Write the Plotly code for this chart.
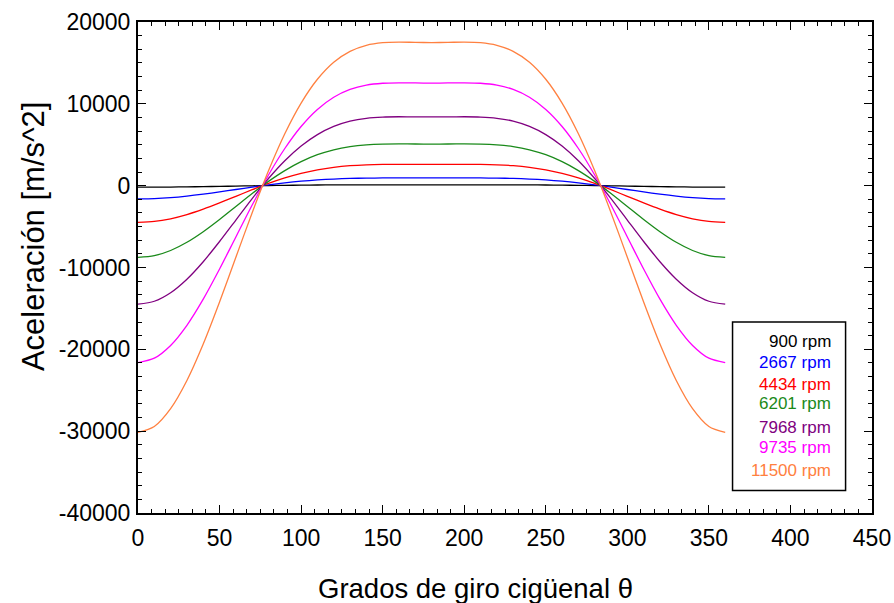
import plotly.graph_objects as go

# Crank angle samples (degrees)
theta = list(range(0, 361, 10))

# Piston acceleration [m/s^2] for each engine speed
acc_900 = [-185, -180, -167, -146, -119, -87, -54, -20, 11, 39, 62, 80, 92, 101, 105, 107, 107, 107, 107,
           107, 107, 107, 105, 101, 92, 80, 62, 39, 11, -20, -54, -87, -119, -146, -167, -180, -185]
acc_2667 = [-1622, -1582, -1465, -1280, -1041, -765, -470, -177, 98, 341, 543, 699, 811, 883, 923, 940, 943, 942, 941,
            942, 943, 940, 923, 883, 811, 699, 543, 341, 98, -177, -470, -765, -1041, -1280, -1465, -1582, -1622]
acc_4434 = [-4484, -4374, -4050, -3539, -2877, -2113, -1300, -490, 270, 942, 1500, 1933, 2242, 2440, 2550, 2597, 2607, 2603, 2600,
            2603, 2607, 2597, 2550, 2440, 2242, 1933, 1500, 942, 270, -490, -1300, -2113, -2877, -3539, -4050, -4374, -4484]
acc_6201 = [-8770, -8554, -7922, -6921, -5627, -4133, -2543, -958, 528, 1842, 2934, 3781, 4385, 4773, 4987, 5079, 5099, 5092, 5086,
            5092, 5099, 5079, 4987, 4773, 4385, 3781, 2934, 1842, 528, -958, -2543, -4133, -5627, -6921, -7922, -8554, -8770]
acc_7968 = [-14481, -14124, -13079, -11427, -9291, -6825, -4199, -1582, 872, 3042, 4845, 6242, 7240, 7881, 8235, 8386, 8419, 8407, 8397,
            8407, 8419, 8386, 8235, 7881, 7240, 6242, 4845, 3042, 872, -1582, -4199, -6825, -9291, -11427, -13079, -14124, -14481]
acc_9735 = [-21615, -21082, -19523, -17058, -13868, -10187, -6267, -2362, 1301, 4540, 7232, 9318, 10808, 11764, 12292, 12517, 12567, 12549, 12535,
            12549, 12567, 12517, 12292, 11764, 10808, 9318, 7232, 4540, 1301, -2362, -6267, -10187, -13868, -17058, -19523, -21082, -21615]
acc_11500 = [-30160, -29420, -27240, -23800, -19350, -14220, -8750, -3300, 1820, 6340, 10090, 13000, 15080, 16420, 17150, 17470, 17540, 17510, 17490,
             17510, 17540, 17470, 17150, 16420, 15080, 13000, 10090, 6340, 1820, -3300, -8750, -14220, -19350, -23800, -27240, -29420, -30160]

series_names = ["900 rpm", "2667 rpm", "4434 rpm", "6201 rpm", "7968 rpm", "9735 rpm", "11500 rpm"]
series_values = [acc_900, acc_2667, acc_4434, acc_6201, acc_7968, acc_9735, acc_11500]
series_colors = ["#000000", "#0000ff", "#ff0000", "#1a8a1a", "#800080", "#ff00ff", "#ff8040"]

x_tickvals = [0, 50, 100, 150, 200, 250, 300, 350, 400, 450]
x_ticktext = ["0", "50", "100", "150", "200", "250", "300", "350", "400", "450"]
y_tickvals = [-40000, -30000, -20000, -10000, 0, 10000, 20000]
y_ticktext = ["-40000", "-30000", "-20000", "-10000", "0", "10000", "20000"]

FONT = "Liberation Sans, Arial, sans-serif"

fig = go.Figure()
for name, vals, col in zip(series_names, series_values, series_colors):
    fig.add_trace(go.Scatter(x=theta, y=vals, mode="lines", name=name,
                             line=dict(color=col, width=1.3, shape="spline", smoothing=0.8),
                             showlegend=False))

axis_common = dict(showline=True, linecolor="black", linewidth=2, mirror="allticks",
                   ticks="inside", ticklen=8, tickwidth=1, tickcolor="black",
                   showgrid=False, zeroline=False, automargin=False,
                   tickfont=dict(family=FONT, size=23, color="black"))

fig.update_xaxes(range=[0, 450], tickvals=x_tickvals, ticktext=x_ticktext,
                 minor=dict(dtick=50 / 6, tick0=0, ticks="inside", ticklen=4, tickwidth=1, tickcolor="black"),
                 ticklabelstandoff=3, **axis_common)
fig.update_yaxes(range=[-40000, 20000], tickvals=y_tickvals, ticktext=y_ticktext,
                 minor=dict(dtick=10000 / 6, tick0=0, ticks="inside", ticklen=4, tickwidth=1, tickcolor="black"),
                 ticklabelstandoff=1, **axis_common)

# Legend box with coloured labels
fig.add_shape(type="rect", xref="paper", yref="paper", x0=0.81, x1=0.964, y0=0.046, y1=0.389,
              line=dict(color="black", width=1.5), fillcolor="white", layer="above")
legend_rows = [0.349, 0.306, 0.262, 0.224, 0.175, 0.133, 0.087]
for name, col, yy in zip(series_names, series_colors, legend_rows):
    fig.add_annotation(text=name, xref="paper", yref="paper", x=0.9475, y=yy,
                       xanchor="right", yanchor="middle", showarrow=False,
                       font=dict(family=FONT, size=17, color=col))

# Axis titles
fig.add_annotation(text="Aceleración [m/s^2]", xref="paper", yref="paper", x=-0.143, y=0.564,
                   textangle=-90, xanchor="center", yanchor="middle", showarrow=False,
                   font=dict(family=FONT, size=31, color="black"))
fig.add_annotation(text="Grados de giro cigüenal θ", xref="paper", yref="paper", x=0.46, y=-0.1535,
                   xanchor="center", yanchor="middle", showarrow=False,
                   font=dict(family=FONT, size=27.5, color="black"))

fig.update_layout(width=894, height=603, margin=dict(l=138, r=22, t=22, b=90),
                  paper_bgcolor="white", plot_bgcolor="white")

fig.write_html("out.html")
